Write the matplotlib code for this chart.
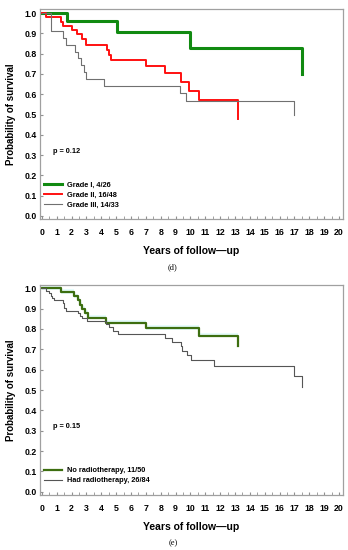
import matplotlib
matplotlib.use('Agg')
import matplotlib.pyplot as plt

plt.rcParams['font.family'] = ['Liberation Sans', 'DejaVu Sans']
plt.rcParams['font.weight'] = 'bold'

# panel (d): survival by tumour grade
grade1_t = [1.68, 5.07, 10.0, 17.5]
grade1_s = [0.96, 0.906, 0.826, 0.70]
grade2_t = [0.27, 1.3, 1.45, 2.0, 2.33, 2.7, 2.96, 4.35, 4.5, 4.65, 6.98, 8.3, 9.33, 9.9, 10.57, 13.2]
grade2_s = [0.979, 0.958, 0.937, 0.916, 0.895, 0.87, 0.845, 0.82, 0.795, 0.77, 0.737, 0.703, 0.66, 0.615, 0.57, 0.48]
grade3_t = [0.63, 1.45, 1.6, 2.2, 2.42, 2.65, 2.85, 3.0, 4.2, 9.3, 9.7, 17.0]
grade3_s = [0.91, 0.876, 0.842, 0.81, 0.78, 0.745, 0.71, 0.675, 0.642, 0.605, 0.565, 0.50]

# panel (e): survival by radiotherapy
norad_t = [1.3, 2.15, 2.4, 2.55, 2.7, 2.87, 3.1, 4.33, 6.98, 10.6, 13.2]
norad_s = [0.98, 0.96, 0.94, 0.92, 0.90, 0.878, 0.855, 0.831, 0.803, 0.767, 0.718]
rad_t = [0.3, 0.5, 0.6, 0.7, 0.8, 1.4, 1.5, 1.6, 2.42, 2.55, 2.7, 3.05, 4.33, 4.5, 4.8, 5.1,
         8.28, 8.73, 9.34, 9.45, 9.74, 10.03, 11.6, 16.97, 17.49]
rad_s = [0.988, 0.976, 0.964, 0.952, 0.94, 0.928, 0.905, 0.89, 0.878, 0.866, 0.852, 0.838, 0.826,
         0.81, 0.79, 0.775, 0.754, 0.735, 0.714, 0.693, 0.672, 0.648, 0.62, 0.57, 0.513]

labels_d = ['Grade I, 4/26', 'Grade II, 16/48', 'Grade III, 14/33']
labels_e = ['No radiotherapy, 11/50', 'Had radiotherapy, 26/84']
p_d = 'p = 0.12'
p_e = 'p = 0.15'

W, H = 348, 550
fig = plt.figure(figsize=(W / 100, H / 100), dpi=100)
ax1 = fig.add_axes([40 / W, 1 - 219 / H, 303 / W, 210 / H])
ax2 = fig.add_axes([40 / W, 1 - 495 / H, 303 / W, 210 / H])


def km(ax, t, s, **kw):
    return ax.plot([0] + t, [1.0] + s, drawstyle='steps-post', **kw)[0]


def style(ax, ylo, yhi):
    ax.set_xlim(-0.13, 20.27)
    ax.set_ylim(ylo, yhi)
    ax.set_xticks(range(21))
    ax.set_xticks([i + 0.5 for i in range(20)], minor=True)
    ax.set_yticks([i / 10 for i in range(11)])
    ax.set_yticklabels([f'{i / 10:.1f}' for i in range(11)])
    ax.tick_params(axis='x', which='both', direction='in', length=2, pad=6.5,
                   labelsize=6.3, color='#909090')
    ax.tick_params(axis='y', direction='in', length=2, pad=2.5, labelsize=6.3, color='#909090')
    for sp in ax.spines.values():
        sp.set_color('#a0a0a0')
        sp.set_linewidth(0.9)


l1 = km(ax1, grade1_t, grade1_s, color='#118a11', lw=2.2)
l2 = km(ax1, grade2_t, grade2_s, color='#ff1010', lw=1.4)
l3 = km(ax1, grade3_t, grade3_s, color='#707070', lw=0.8)
style(ax1, -0.015, 1.02)
ax1.text(0.72, 0.32, p_d, fontsize=5.3, va='center')
ax1.legend([l1, l2, l3], labels_d, loc='upper left', bbox_to_anchor=(0.013, 0.178),
           frameon=False, fontsize=5.3, handlelength=2.5, handletextpad=0.6,
           labelspacing=0.4, borderpad=0, borderaxespad=0)

ax2.fill_between([0] + norad_t, [0.99] + [v - 0.008 for v in norad_s],
                 [1.01] + [v + 0.014 for v in norad_s], step='post', color='#e6fcfb', lw=0)
m1 = km(ax2, norad_t, norad_s, color='#3d6e10', lw=1.6)
m2 = km(ax2, rad_t, rad_s, color='#555555', lw=0.8)
style(ax2, -0.016, 1.016)
ax2.text(0.72, 0.323, p_e, fontsize=5.3, va='center')
ax2.legend([m1, m2], labels_e, loc='upper left', bbox_to_anchor=(0.013, 0.133),
           frameon=False, fontsize=5.3, handlelength=2.5, handletextpad=0.6,
           labelspacing=0.4, borderpad=0, borderaxespad=0)

for ytop, ybot, xl, cap in [(9, 219, 251, '(d)'), (285, 495, 527, '(e)')]:
    fig.text(191 / W, 1 - xl / H, 'Years of follow\u2014up', fontsize=7.5, ha='center', va='center')
    fig.text(11 / W, 1 - (ytop + ybot) / 2 / H, 'Probability of survival', fontsize=7,
             rotation=90, ha='center', va='center')
    fig.text(173 / W, 1 - (xl + 16) / H, cap, fontsize=6, ha='center', va='center',
             family=['Liberation Serif', 'DejaVu Serif'], weight='normal')

fig.savefig('out.png', dpi=100)
